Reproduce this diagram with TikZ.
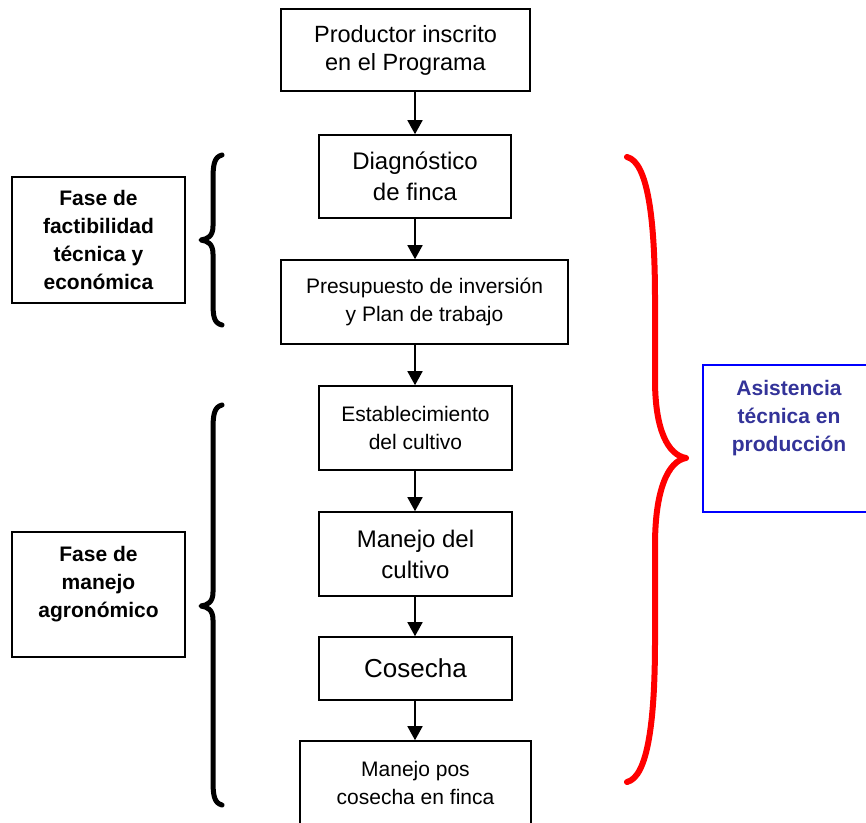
\documentclass[tikz,border=0pt]{standalone}
\usepackage{fontspec}
\setmainfont{Liberation Sans}
\usetikzlibrary{arrows.meta}
\definecolor{txtblue}{RGB}{51,51,153}
\tikzset{
  box/.style={draw=black, line width=1.6pt, inner sep=0pt, align=center},
  arr/.style={line width=1.6pt, -{Triangle[width=15pt,length=14pt]}},
  bbrace/.style={line width=5pt, line cap=round, line join=round},
  rbrace/.style={draw=red, line width=6pt, line cap=round, line join=round},
  fA/.style={font=\fontsize{23.5}{28}\selectfont},
  fB/.style={font=\fontsize{21}{28}\selectfont},
  fC/.style={font=\fontsize{24}{31}\selectfont},
  fD/.style={font=\fontsize{26}{30}\selectfont},
  fbold/.style={font=\bfseries\fontsize{21}{28}\selectfont},
}
\begin{document}
\begin{tikzpicture}[x=1pt,y=-1pt]
\useasboundingbox (0,0) rectangle (866,822);
\fill[white] (0,0) rectangle (866,822);

% main column
\node[box, fA, minimum width=249pt, minimum height=82pt] (b1) at (405.5,50) {Productor inscrito\\en el Programa};
\node[box, fC, minimum width=192pt, minimum height=83pt] (b2) at (415,176.5) {Diagnóstico\\de finca};
\node[box, fB, minimum width=287pt, minimum height=84pt] (b3) at (424.5,302) {Presupuesto de inversión\\y Plan de trabajo};
\node[box, fB, minimum width=193pt, minimum height=84pt] (b4) at (415.5,428) {Establecimiento\\del cultivo};
\node[box, fC, minimum width=193pt, minimum height=84pt] (b5) at (415.5,554) {Manejo del\\cultivo};
\node[box, fD, minimum width=193pt, minimum height=63pt] (b6) at (415.5,668.5) {Cosecha};
\node[box, fB, minimum width=231pt, minimum height=84pt] (b7) at (415.5,783) {Manejo pos\\cosecha en finca};

\coordinate (ax) at (415,0);
\draw[arr] (b1.south -| ax) -- (b2.north -| ax);
\draw[arr] (b2.south -| ax) -- (b3.north -| ax);
\draw[arr] (b3.south -| ax) -- (b4.north -| ax);
\draw[arr] (b4.south -| ax) -- (b5.north -| ax);
\draw[arr] (b5.south -| ax) -- (b6.north -| ax);
\draw[arr] (b6.south -| ax) -- (b7.north -| ax);

% left boxes
\node[box, fbold, minimum width=173pt, minimum height=126pt] (l1) at (98.5,240) {Fase de\\factibilidad\\técnica y\\económica};
\node[box, minimum width=173pt, minimum height=125pt] (l2) at (98.5,594.5) {};
\node[fbold, align=center, inner sep=0pt] (l2t) at (98.5,584.5) {Fase de\\manejo\\agronómico};

% right box
\node[draw=blue, line width=1.6pt, inner sep=0pt, minimum width=174pt, minimum height=147pt] (rb) at (790,438.5) {};
\node[fbold, text=txtblue, align=center, inner sep=0pt, anchor=north] (rbt) at (789,380) {Asistencia\\técnica en\\producción};

% black braces
\draw[bbrace] (222,155) .. controls (214,157) and (213,165) .. (213,180)
  -- (213,226) .. controls (213,236) and (208,239) .. (201,240)
  .. controls (208,241) and (213,244) .. (213,254)
  -- (213,302) .. controls (213,317) and (214,323) .. (222,325);
\draw[bbrace] (222,405) .. controls (214,407) and (213,415) .. (213,430)
  -- (213,592) .. controls (213,602) and (208,605) .. (201,606)
  .. controls (208,607) and (213,610) .. (213,620)
  -- (213,780) .. controls (213,795) and (214,803) .. (222,805);

% red brace
\draw[rbrace] (627,157) .. controls (648,162) and (655,220) .. (655,300)
  -- (655,380) .. controls (655,430) and (668,455) .. (686,458)
  .. controls (668,461) and (655,490) .. (655,545)
  -- (655,640) .. controls (655,720) and (648,777) .. (627,782);
\end{tikzpicture}
\end{document}
